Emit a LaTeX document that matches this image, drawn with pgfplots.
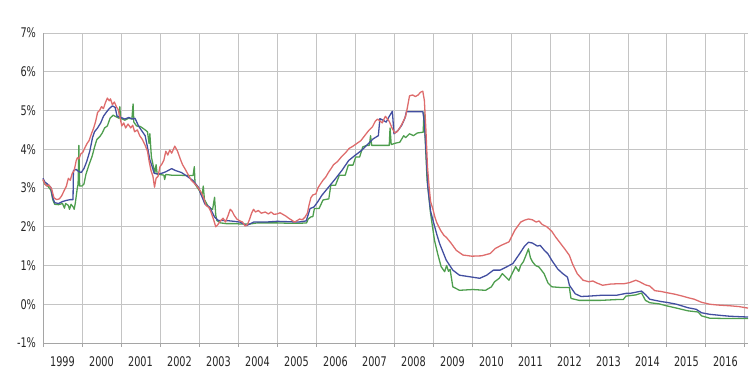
\documentclass[border=0pt]{standalone}
\usepackage{fontspec}
\setmainfont{DejaVu Sans}[FakeStretch=0.73]
\usepackage{pgfplots}
\pgfplotsset{compat=1.18}
\definecolor{cred}{RGB}{222,108,108}
\definecolor{cblue}{RGB}{66,78,160}
\definecolor{cgreen}{RGB}{78,158,78}
\definecolor{cgrid}{RGB}{196,196,196}
\definecolor{caxis}{RGB}{165,165,165}
\begin{document}
\begin{tikzpicture}[x=1pt,y=1pt]
\begin{axis}[
  at={(43pt,32pt)}, anchor=south west,
  scale only axis, width=705pt, height=310pt,
  xmin=1999, xmax=2017.08, ymin=-1, ymax=7,
  axis lines=left, axis line style={-, draw=caxis, line width=0.8pt},
  xtick={1999.5,2000.5,...,2016.5},
  xticklabels={1999,2000,2001,2002,2003,2004,2005,2006,2007,2008,2009,2010,2011,2012,2013,2014,2015,2016},
  minor xtick={1999,2000,...,2017},
  xminorgrids=true, ymajorgrids=true,
  minor grid style={draw=cgrid, line width=0.8pt},
  major grid style={draw=cgrid, line width=0.8pt},
  ytick={-1,0,...,7},
  yticklabels={-1\%,0\%,1\%,2\%,3\%,4\%,5\%,6\%,7\%},
  tick align=outside,
  major tick length=0pt,
  minor tick length=4pt,
  minor tick style={draw=caxis, line width=0.8pt},
  /pgf/number format/assume math mode=true,
  ticklabel style={font=\fontsize{13.3}{16}\selectfont, text=black!85},
  xticklabel shift=10pt,
  yticklabel shift=3.5pt,
  clip=false,
]
\addplot[cgreen, line width=1.3pt, line join=round] coordinates {
(1999.00,3.20)(1999.05,3.10)(1999.12,3.05)(1999.20,2.95)(1999.25,2.70)(1999.30,2.58)(1999.40,2.57)(1999.50,2.60)(1999.55,2.48)(1999.58,2.60)(1999.65,2.55)(1999.68,2.45)(1999.72,2.58)(1999.78,2.50)(1999.80,2.45)(1999.83,2.62)(1999.88,3.00)(1999.90,3.10)(1999.92,4.10)(1999.94,3.05)(2000.00,3.05)(2000.05,3.10)(2000.10,3.35)(2000.18,3.60)(2000.26,3.82)(2000.32,4.05)(2000.38,4.25)(2000.46,4.33)(2000.52,4.42)(2000.58,4.55)(2000.65,4.60)(2000.72,4.80)(2000.80,4.88)(2000.85,4.85)(2000.95,4.80)(2000.97,5.10)(2000.99,4.80)(2001.10,4.75)(2001.20,4.80)(2001.28,4.78)(2001.31,5.17)(2001.33,4.70)(2001.40,4.60)(2001.49,4.59)(2001.55,4.55)(2001.62,4.50)(2001.68,4.45)(2001.72,4.15)(2001.74,4.40)(2001.78,3.80)(2001.83,3.56)(2001.87,3.40)(2001.90,3.60)(2001.93,3.35)(2002.00,3.35)(2002.10,3.33)(2002.12,3.22)(2002.15,3.35)(2002.30,3.33)(2002.50,3.33)(2002.70,3.32)(2002.85,3.32)(2002.88,3.55)(2002.90,3.10)(2003.00,2.95)(2003.08,2.80)(2003.11,3.05)(2003.14,2.70)(2003.25,2.50)(2003.35,2.45)(2003.40,2.76)(2003.43,2.30)(2003.46,2.16)(2003.55,2.10)(2003.70,2.08)(2003.90,2.08)(2004.10,2.07)(2004.30,2.07)(2004.50,2.10)(2004.80,2.10)(2005.00,2.10)(2005.30,2.09)(2005.60,2.09)(2005.76,2.10)(2005.80,2.20)(2005.88,2.26)(2005.92,2.26)(2005.96,2.47)(2006.08,2.47)(2006.18,2.69)(2006.33,2.72)(2006.38,3.07)(2006.50,3.07)(2006.60,3.33)(2006.75,3.33)(2006.83,3.59)(2006.95,3.59)(2007.02,3.80)(2007.12,3.80)(2007.20,4.06)(2007.30,4.10)(2007.37,4.10)(2007.40,4.35)(2007.43,4.10)(2007.60,4.10)(2007.75,4.10)(2007.88,4.10)(2007.90,4.55)(2007.93,4.12)(2008.05,4.16)(2008.15,4.18)(2008.25,4.35)(2008.30,4.30)(2008.40,4.40)(2008.50,4.35)(2008.60,4.42)(2008.75,4.44)(2008.77,4.96)(2008.80,4.30)(2008.85,3.20)(2008.94,2.34)(2009.04,1.65)(2009.12,1.31)(2009.21,0.97)(2009.30,0.84)(2009.35,1.00)(2009.40,0.85)(2009.44,0.90)(2009.51,0.45)(2009.68,0.36)(2010.02,0.38)(2010.35,0.36)(2010.50,0.45)(2010.58,0.58)(2010.70,0.67)(2010.78,0.79)(2010.87,0.70)(2010.95,0.62)(2011.03,0.79)(2011.12,0.97)(2011.20,0.85)(2011.25,1.00)(2011.32,1.10)(2011.40,1.30)(2011.45,1.43)(2011.50,1.20)(2011.55,1.10)(2011.63,1.00)(2011.72,0.96)(2011.85,0.79)(2011.95,0.55)(2012.05,0.45)(2012.30,0.43)(2012.50,0.43)(2012.54,0.15)(2012.75,0.10)(2013.30,0.10)(2013.70,0.12)(2013.88,0.12)(2013.95,0.21)(2014.20,0.24)(2014.35,0.29)(2014.45,0.10)(2014.56,0.04)(2014.80,0.01)(2014.99,-0.04)(2015.25,-0.10)(2015.54,-0.17)(2015.80,-0.20)(2015.89,-0.30)(2016.10,-0.36)(2016.62,-0.37)(2017.08,-0.37)
};
\addplot[cblue, line width=1.3pt, line join=round] coordinates {
(1999.00,3.25)(1999.05,3.15)(1999.12,3.10)(1999.20,3.02)(1999.25,2.75)(1999.30,2.62)(1999.40,2.60)(1999.50,2.65)(1999.60,2.68)(1999.70,2.70)(1999.77,2.70)(1999.78,3.45)(1999.85,3.48)(1999.92,3.42)(1999.98,3.40)(2000.05,3.50)(2000.12,3.68)(2000.20,3.95)(2000.27,4.30)(2000.32,4.45)(2000.40,4.55)(2000.48,4.68)(2000.55,4.85)(2000.62,4.95)(2000.70,5.05)(2000.78,5.12)(2000.85,5.08)(2000.90,4.85)(2001.00,4.82)(2001.10,4.78)(2001.20,4.82)(2001.30,4.78)(2001.36,4.80)(2001.45,4.60)(2001.55,4.45)(2001.62,4.35)(2001.68,4.05)(2001.74,3.73)(2001.80,3.55)(2001.85,3.38)(2001.95,3.36)(2002.05,3.38)(2002.15,3.42)(2002.30,3.50)(2002.40,3.45)(2002.55,3.40)(2002.70,3.30)(2002.85,3.19)(2003.00,3.00)(2003.03,2.89)(2003.15,2.59)(2003.28,2.50)(2003.40,2.25)(2003.50,2.16)(2003.70,2.16)(2003.90,2.14)(2004.05,2.12)(2004.22,2.03)(2004.40,2.12)(2004.70,2.12)(2005.00,2.14)(2005.30,2.13)(2005.55,2.12)(2005.75,2.15)(2005.85,2.47)(2005.95,2.51)(2006.05,2.65)(2006.15,2.81)(2006.33,3.03)(2006.50,3.24)(2006.67,3.46)(2006.84,3.71)(2007.00,3.84)(2007.17,3.97)(2007.34,4.14)(2007.47,4.27)(2007.60,4.35)(2007.64,4.79)(2007.72,4.75)(2007.80,4.70)(2007.88,4.85)(2007.96,4.98)(2008.00,4.40)(2008.10,4.48)(2008.20,4.62)(2008.28,4.80)(2008.32,4.97)(2008.50,4.97)(2008.74,4.97)(2008.78,4.70)(2008.82,4.00)(2008.87,3.03)(2008.94,2.40)(2009.00,2.17)(2009.10,1.80)(2009.17,1.57)(2009.34,1.14)(2009.51,0.88)(2009.68,0.75)(2009.94,0.71)(2010.20,0.67)(2010.38,0.75)(2010.55,0.88)(2010.72,0.88)(2010.90,0.97)(2011.05,1.05)(2011.22,1.30)(2011.35,1.50)(2011.45,1.60)(2011.55,1.58)(2011.68,1.50)(2011.75,1.52)(2011.85,1.40)(2011.95,1.30)(2012.05,1.13)(2012.20,0.91)(2012.33,0.79)(2012.45,0.70)(2012.50,0.49)(2012.65,0.27)(2012.80,0.20)(2013.00,0.21)(2013.30,0.23)(2013.70,0.23)(2013.95,0.28)(2014.05,0.28)(2014.20,0.31)(2014.35,0.34)(2014.45,0.25)(2014.56,0.13)(2014.70,0.10)(2014.85,0.07)(2014.99,0.05)(2015.25,0.00)(2015.54,-0.09)(2015.75,-0.13)(2015.89,-0.22)(2016.10,-0.26)(2016.40,-0.29)(2016.62,-0.31)(2017.08,-0.33)
};
\addplot[cred, line width=1.3pt, line join=round] coordinates {
(1999.00,3.22)(1999.05,3.10)(1999.10,3.05)(1999.15,3.08)(1999.22,2.98)(1999.28,2.75)(1999.35,2.70)(1999.42,2.72)(1999.48,2.80)(1999.55,2.95)(1999.60,3.05)(1999.65,3.25)(1999.70,3.20)(1999.75,3.38)(1999.80,3.45)(1999.85,3.70)(1999.88,3.78)(1999.92,3.75)(1999.97,3.88)(2000.02,3.92)(2000.08,4.05)(2000.13,4.15)(2000.18,4.22)(2000.25,4.42)(2000.30,4.55)(2000.35,4.72)(2000.40,4.95)(2000.45,5.00)(2000.50,5.10)(2000.55,5.05)(2000.60,5.20)(2000.65,5.32)(2000.70,5.25)(2000.73,5.30)(2000.78,5.15)(2000.83,5.22)(2000.88,5.10)(2000.93,5.02)(2000.97,4.85)(2001.02,4.60)(2001.07,4.68)(2001.12,4.55)(2001.18,4.65)(2001.25,4.55)(2001.30,4.62)(2001.35,4.45)(2001.42,4.50)(2001.48,4.35)(2001.55,4.25)(2001.62,4.10)(2001.68,3.95)(2001.72,3.70)(2001.77,3.45)(2001.82,3.30)(2001.86,3.02)(2001.90,3.25)(2001.95,3.30)(2002.00,3.55)(2002.05,3.62)(2002.10,3.72)(2002.15,3.95)(2002.20,3.85)(2002.25,3.98)(2002.30,3.90)(2002.38,4.08)(2002.45,3.95)(2002.52,3.75)(2002.58,3.60)(2002.65,3.48)(2002.72,3.35)(2002.80,3.20)(2002.88,3.12)(2002.95,3.05)(2003.05,2.90)(2003.12,2.75)(2003.18,2.55)(2003.25,2.50)(2003.30,2.40)(2003.37,2.20)(2003.43,2.00)(2003.48,2.05)(2003.55,2.15)(2003.62,2.22)(2003.68,2.12)(2003.75,2.30)(2003.80,2.45)(2003.85,2.40)(2003.90,2.30)(2003.97,2.20)(2004.05,2.15)(2004.12,2.12)(2004.18,2.02)(2004.24,2.05)(2004.30,2.20)(2004.35,2.35)(2004.40,2.45)(2004.45,2.38)(2004.52,2.42)(2004.60,2.35)(2004.70,2.38)(2004.78,2.33)(2004.85,2.38)(2004.92,2.32)(2005.00,2.33)(2005.08,2.36)(2005.15,2.32)(2005.22,2.28)(2005.30,2.22)(2005.38,2.17)(2005.45,2.12)(2005.52,2.16)(2005.58,2.20)(2005.65,2.18)(2005.72,2.25)(2005.78,2.35)(2005.82,2.55)(2005.87,2.75)(2005.92,2.82)(2006.00,2.85)(2006.05,3.00)(2006.10,3.08)(2006.18,3.20)(2006.25,3.28)(2006.32,3.40)(2006.40,3.52)(2006.45,3.60)(2006.55,3.68)(2006.65,3.80)(2006.75,3.90)(2006.85,4.02)(2006.95,4.08)(2007.05,4.15)(2007.15,4.22)(2007.25,4.35)(2007.35,4.48)(2007.45,4.58)(2007.52,4.72)(2007.58,4.78)(2007.65,4.72)(2007.70,4.68)(2007.78,4.85)(2007.82,4.80)(2007.88,4.72)(2007.95,4.55)(2008.02,4.42)(2008.08,4.45)(2008.15,4.55)(2008.22,4.68)(2008.30,4.85)(2008.34,5.05)(2008.40,5.38)(2008.48,5.40)(2008.55,5.36)(2008.62,5.40)(2008.68,5.47)(2008.74,5.50)(2008.78,5.26)(2008.82,4.50)(2008.86,3.55)(2008.90,3.05)(2008.94,2.65)(2009.00,2.45)(2009.05,2.25)(2009.10,2.10)(2009.20,1.90)(2009.28,1.78)(2009.35,1.72)(2009.47,1.57)(2009.60,1.39)(2009.77,1.27)(2010.00,1.24)(2010.25,1.25)(2010.47,1.31)(2010.60,1.44)(2010.75,1.52)(2010.95,1.61)(2011.10,1.91)(2011.25,2.12)(2011.35,2.17)(2011.45,2.20)(2011.55,2.18)(2011.65,2.12)(2011.72,2.15)(2011.80,2.06)(2011.92,2.00)(2012.05,1.88)(2012.15,1.73)(2012.28,1.56)(2012.40,1.40)(2012.50,1.26)(2012.58,1.04)(2012.70,0.79)(2012.85,0.62)(2013.00,0.58)(2013.10,0.60)(2013.20,0.55)(2013.35,0.49)(2013.55,0.52)(2013.75,0.53)(2013.90,0.53)(2014.05,0.56)(2014.20,0.62)(2014.30,0.58)(2014.45,0.50)(2014.56,0.47)(2014.69,0.35)(2014.85,0.33)(2014.99,0.30)(2015.20,0.26)(2015.40,0.21)(2015.54,0.17)(2015.70,0.13)(2015.89,0.05)(2016.10,0.00)(2016.30,-0.02)(2016.62,-0.04)(2016.85,-0.06)(2017.08,-0.10)
};
\end{axis}
\pgfresetboundingbox
\path[use as bounding box] (0,0) rectangle (750pt,375pt);
\end{tikzpicture}
\end{document}
